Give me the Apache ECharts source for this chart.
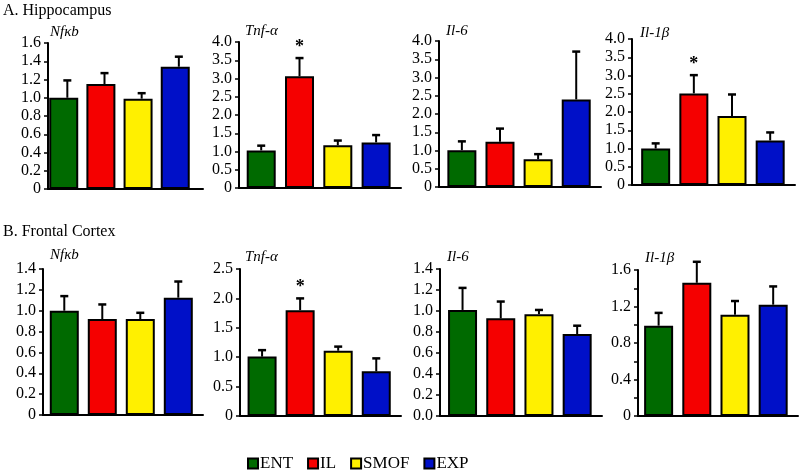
<!DOCTYPE html>
<html><head><meta charset="utf-8">
<script src="https://cdn.jsdelivr.net/npm/echarts@6/dist/echarts.min.js"></script>
<style>html,body{margin:0;padding:0;background:#fff}#c{width:800px;height:472px}</style>
</head><body><div id="c"></div>
<script>
// ---- data ----
const groups = ['ENT', 'IL', 'SMOF', 'EXP'];
const groupColors = ['#006a00', '#f50000', '#fff000', '#0010c8'];
const sectionTitles = ['A. Hippocampus', 'B. Frontal Cortex'];
const geneNames = ['Nfκb', 'Tnf-α', 'Il-6', 'Il-1β', 'Nfκb', 'Tnf-α', 'Il-6', 'Il-1β'];

// Hippocampus
const hipNfkbMean = [1.00, 1.15, 0.99, 1.34];
const hipNfkbSem  = [0.19, 0.12, 0.06, 0.11];
const hipTnfMean  = [1.03, 3.06, 1.17, 1.25];
const hipTnfSem   = [0.13, 0.50, 0.13, 0.20];
const hipIl6Mean  = [1.01, 1.24, 0.76, 2.40];
const hipIl6Sem   = [0.24, 0.36, 0.14, 1.31];
const hipIl1bMean = [1.00, 2.51, 1.89, 1.22];
const hipIl1bSem  = [0.14, 0.50, 0.59, 0.22];
// Frontal cortex
const fcNfkbMean = [1.00, 0.92, 0.92, 1.125];
const fcNfkbSem  = [0.14, 0.14, 0.06, 0.155];
const fcTnfMean  = [1.01, 1.80, 1.11, 0.76];
const fcTnfSem   = [0.11, 0.20, 0.07, 0.22];
const fcIl6Mean  = [1.01, 0.93, 0.97, 0.78];
const fcIl6Sem   = [0.21, 0.16, 0.04, 0.08];
const fcIl1bMean = [0.99, 1.46, 1.11, 1.22];
const fcIl1bSem  = [0.14, 0.23, 0.15, 0.20];

// significance markers (1 = asterisk)
const hipTnfSig  = [0, 1, 0, 0];
const hipIl1bSig = [0, 1, 0, 0];
const fcTnfSig   = [0, 1, 0, 0];
const noSig      = [0, 0, 0, 0];

// y-axis scales
const yMax      = [1.6, 4, 4, 4, 1.4, 2.5, 1.4, 1.6];
const yInterval = [0.2, 0.5, 0.5, 0.5, 0.2, 0.5, 0.2, 0.2];
const yLabelStep = [0.2, 0.5, 0.5, 0.5, 0.2, 0.5, 0.2, 0.4];
const zeroLabel = ['0', '0', '0', '0', '0', '0', '0.0', '0'];

const panels = [
  [hipNfkbMean, hipNfkbSem, noSig], [hipTnfMean, hipTnfSem, hipTnfSig],
  [hipIl6Mean, hipIl6Sem, noSig], [hipIl1bMean, hipIl1bSem, hipIl1bSig],
  [fcNfkbMean, fcNfkbSem, noSig], [fcTnfMean, fcTnfSem, fcTnfSig],
  [fcIl6Mean, fcIl6Sem, noSig], [fcIl1bMean, fcIl1bSem, noSig]
];

// ---- layout ----
const layout = [
  {left: 48, width: 155, top: 43, height: 146, xmin: -0.52},
  {left: 239, width: 162, top: 42, height: 146, xmin: -0.58},
  {left: 439, width: 162, top: 41, height: 146, xmin: -0.60},
  {left: 632, width: 163, top: 39, height: 146, xmin: -0.62},
  {left: 43, width: 160, top: 269, height: 146, xmin: -0.56},
  {left: 240, width: 161, top: 269, height: 147, xmin: -0.58},
  {left: 440, width: 162, top: 269, height: 147, xmin: -0.59},
  {left: 638, width: 160, top: 270, height: 146, xmin: -0.54}
];
const geneTitlePos = [[50,32],[245,31],[446,31],[640,33],[50,255],[245,257],[447,257],[645,258]];
const FONT = '"Liberation Serif", "DejaVu Serif", serif';

const grid = [], xAxis = [], yAxis = [], series = [];
layout.forEach((L, i) => {
  grid.push({left: L.left, top: L.top, width: L.width, height: L.height, containLabel: false});
  xAxis.push({
    type: 'value', gridIndex: i, min: L.xmin, max: 3.65,
    axisLine: {show: true, onZero: false, lineStyle: {color: '#000', width: 2}},
    axisTick: {show: false}, axisLabel: {show: false}, splitLine: {show: false}
  });
  const step = yLabelStep[i];
  yAxis.push({
    type: 'value', gridIndex: i, min: 0, max: yMax[i], interval: yInterval[i],
    axisLine: {show: true, onZero: false, lineStyle: {color: '#000', width: 2}},
    axisTick: {show: true, length: 4, lineStyle: {color: '#000', width: 1.5}},
    splitLine: {show: false},
    axisLabel: {
      color: '#000', fontFamily: FONT, fontSize: 16, margin: 7,
      formatter: v => {
        if (Math.abs(v) < 1e-9) return zeroLabel[i];
        const r = v / step;
        if (Math.abs(r - Math.round(r)) > 1e-6) return '';
        return v.toFixed(1);
      }
    }
  });
  const [mean, sem, sig] = panels[i];
  series.push({
    type: 'bar', xAxisIndex: i, yAxisIndex: i, barWidth: 29,
    data: mean.map((m, k) => ({value: [k, m], itemStyle: {color: groupColors[k]}})),
    itemStyle: {borderColor: '#000', borderWidth: 2},
    emphasis: {disabled: true}, animation: false, z: 2
  });
  series.push({
    type: 'custom', xAxisIndex: i, yAxisIndex: i, animation: false, z: 3,
    data: mean.map((m, k) => [k, m, m + sem[k], sig[k]]),
    renderItem: (params, api) => {
      const p1 = api.coord([api.value(0), api.value(1)]);
      const p2 = api.coord([api.value(0), api.value(2)]);
      const children = [
        {type: 'line', shape: {x1: p1[0], y1: p1[1], x2: p2[0], y2: p2[1]}, style: {stroke: '#000', lineWidth: 2}},
        {type: 'line', shape: {x1: p2[0] - 4, y1: p2[1], x2: p2[0] + 4, y2: p2[1]}, style: {stroke: '#000', lineWidth: 2.5}}
      ];
      if (api.value(3)) {
        children.push({type: 'text', x: p2[0], y: p2[1] - 11,
          style: {text: '*', fill: '#000', font: 'bold 18px ' + FONT, align: 'center', verticalAlign: 'middle'}});
      }
      return {type: 'group', children};
    }
  });
});

// legend-only series
groups.forEach((g, k) => {
  series.push({type: 'bar', name: g, xAxisIndex: 0, yAxisIndex: 0, data: [],
    itemStyle: {color: groupColors[k], borderColor: '#000', borderWidth: 1.5}});
});

const graphic = [
  {type: 'text', left: 3, top: 3, style: {text: sectionTitles[0], font: '16px ' + FONT, fill: '#000'}},
  {type: 'text', left: 3, top: 224, style: {text: sectionTitles[1], font: '16px ' + FONT, fill: '#000'}}
];
geneNames.forEach((g, i) => {
  graphic.push({type: 'text', x: geneTitlePos[i][0], y: geneTitlePos[i][1],
    style: {text: g, font: 'italic 15px ' + FONT, fill: '#000', verticalAlign: 'middle'}});
});

const chart = echarts.init(document.getElementById('c'), null, {renderer: 'canvas'});
chart.setOption({
  animation: false,
  backgroundColor: '#fff',
  grid, xAxis, yAxis, series, graphic,
  legend: {
    data: groups, left: 247, top: 455, itemWidth: 10, itemHeight: 10, itemGap: 14,
    icon: 'rect', selectedMode: false, padding: 0,
    textStyle: {fontFamily: FONT, fontSize: 17, color: '#000', padding: [0, 0, 0, -3]}
  }
});
</script></body></html>
